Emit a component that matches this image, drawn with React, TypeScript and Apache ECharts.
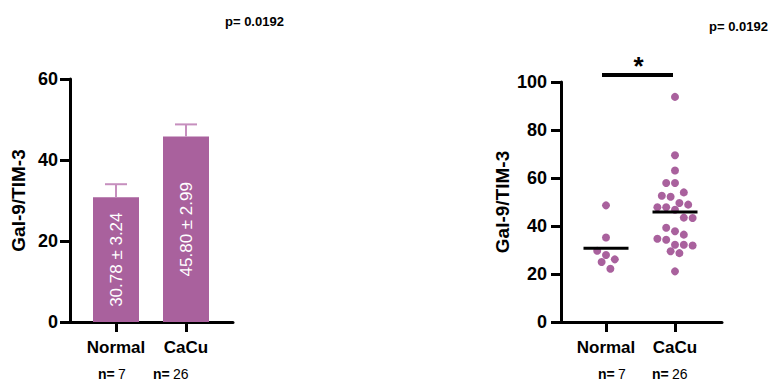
import React, { useEffect, useRef } from "react";
import * as echarts from "echarts";

const categories = ["Normal", "CaCu"];
const means = [30.78, 45.8];
const sems = [3.24, 2.99];
const counts = [7, 26];
const pValue = "0.0192";
const normalValues = [48.6, 35.2, 29.7, 27.9, 26.1, 25.0, 22.2];
const cacuValues = [
  93.8, 69.5, 63.1, 57.9, 57.9, 54.0, 52.6, 52.2, 49.6, 48.9, 47.8, 46.8, 47.8,
  43.3, 43.5, 39.3, 37.8, 36.4, 34.7, 34.3, 32.2, 31.9, 32.2, 29.5, 28.7, 21.1,
];
const leftTicks = { min: 0, max: 60, interval: 20 };
const rightTicks = { min: 0, max: 100, interval: 20 };

const FONT = "Liberation Sans, Arial, sans-serif";
const PURPLE = "#a9619d";
const ERR = "#c68fbe";

// Prism-like scatter-dot layout: values binned into rows (in pixels), each row centred
function swarm(values: number[], pxPerUnitY: number, rowH: number, step: number): number[] {
  const idx = values.map((_, i) => i).sort((a, b) => values[b] - values[a]);
  const out = new Array(values.length).fill(0);
  const rows: number[][] = [];
  let cur: number[] = [];
  let start = 0;
  for (const i of idx) {
    const y = values[i] * pxPerUnitY;
    if (cur.length && start - y > rowH) {
      rows.push(cur);
      cur = [];
    }
    if (!cur.length) start = y;
    cur.push(i);
  }
  if (cur.length) rows.push(cur);
  for (const r of rows) {
    r.forEach((i, k) => {
      out[i] = (k - (r.length - 1) / 2) * step;
    });
  }
  return out;
}

export default function App() {
  const ref = useRef<HTMLDivElement>(null);
  useEffect(() => {
    if (!ref.current) return;
    const chart = echarts.init(ref.current, null, { renderer: "svg" });

    const L = { left: 70, top: 79, width: 163, height: 243 };
    const R = { left: 561, top: 82, width: 161, height: 240 };
    const lMin = -46 / 70, lMax = 1 + 47 / 70;
    const rMin = -45 / 69, rMax = 1 + 47 / 69;
    const rPxX = R.width / (rMax - rMin);
    const rPxY = R.height / (rightTicks.max - rightTicks.min);
    const groups = [normalValues, cacuValues];
    const scatterData = groups.map((vals, g) => {
      const off = swarm(vals, rPxY, 11, 8.8);
      return vals.map((v, k) => [g + off[k] / rPxX, v]);
    });

    const axisLineStyle = { lineStyle: { color: "#000", width: 3 } };
    const xAxisBase = (min: number, max: number, gi: number) => ({
      type: "value",
      gridIndex: gi,
      min,
      max,
      splitLine: { show: false },
      axisLine: { show: true, onZero: false, ...axisLineStyle },
      axisTick: { show: true, length: 10, lineStyle: { color: "#000", width: 3 }, customValues: [0, 1] },
      axisLabel: {
        customValues: [0, 1],
        formatter: (v: number) => categories[Math.round(v)] ?? "",
        color: "#000",
        fontWeight: "bold",
        fontSize: 17,
        fontFamily: FONT,
        margin: 17,
      },
    });
    const yAxisBase = (t: any, gi: number, gap: number, margin: number) => ({
      type: "value",
      gridIndex: gi,
      min: t.min,
      max: t.max,
      interval: t.interval,
      name: "Gal-9/TIM-3",
      nameLocation: "middle",
      nameGap: gap,
      nameTextStyle: { color: "#000", fontWeight: "bold", fontSize: 19, fontFamily: FONT },
      splitLine: { show: false },
      axisLine: { show: true, onZero: false, ...axisLineStyle },
      axisTick: { show: true, length: 10, lineStyle: { color: "#000", width: 3 } },
      axisLabel: { color: "#000", fontWeight: "bold", fontSize: 18, fontFamily: FONT, margin },
    });

    const nText = (x: number, y: number, n: number) => ({
      type: "text",
      x,
      y,
      style: {
        text: `{b|n=} {r|${n}}`,
        rich: {
          b: { fontWeight: "bold", fontSize: 14, fontFamily: FONT, fill: "#000" },
          r: { fontSize: 14, fontFamily: FONT, fill: "#000" },
        },
        verticalAlign: "middle",
        align: "left",
      },
    });
    const pText = (x: number, y: number) => ({
      type: "text",
      x,
      y,
      style: {
        text: `p= ${pValue}`,
        fontWeight: "bold",
        fontSize: 13,
        fontFamily: FONT,
        fill: "#000",
        verticalAlign: "middle",
        align: "left",
      },
    });

    chart.setOption({
      animation: false,
      grid: [
        { left: L.left, top: L.top, width: L.width, height: L.height },
        { left: R.left, top: R.top, width: R.width, height: R.height },
      ],
      xAxis: [xAxisBase(lMin, lMax, 0), xAxisBase(rMin, rMax, 1)],
      yAxis: [yAxisBase(leftTicks, 0, 42, 12), yAxisBase(rightTicks, 1, 49, 14)],
      graphic: [
        pText(225, 21),
        pText(709, 26),
        nText(98, 374, counts[0]),
        nText(153, 374, counts[1]),
        nText(598, 374, counts[0]),
        nText(652, 374, counts[1]),
      ],
      series: [
        {
          type: "bar",
          xAxisIndex: 0,
          yAxisIndex: 0,
          barWidth: 46,
          data: means.map((m, i) => [i, m]),
          itemStyle: { color: PURPLE },
          label: {
            show: true,
            position: "inside",
            rotate: 90,
            color: "#fff",
            fontSize: 17,
            fontFamily: FONT,
            formatter: (p: any) => `${means[p.dataIndex].toFixed(2)} ± ${sems[p.dataIndex].toFixed(2)}`,
          },
          z: 2,
        },
        {
          type: "custom",
          xAxisIndex: 0,
          yAxisIndex: 0,
          data: means.map((m, i) => [i, m, sems[i]]),
          encode: { x: 0, y: 1 },
          z: 3,
          renderItem: (params: any, api: any) => {
            const x = api.value(0), m = api.value(1), s = api.value(2);
            const b = api.coord([x, m]);
            const t = api.coord([x, m + s]);
            return {
              type: "group",
              children: [
                { type: "line", shape: { x1: b[0], y1: b[1], x2: t[0], y2: t[1] }, style: { stroke: ERR, lineWidth: 2 } },
                { type: "line", shape: { x1: t[0] - 11, y1: t[1], x2: t[0] + 11, y2: t[1] }, style: { stroke: ERR, lineWidth: 2 } },
              ],
            };
          },
        },
        ...scatterData.map((d) => ({
          type: "scatter",
          xAxisIndex: 1,
          yAxisIndex: 1,
          data: d,
          symbolSize: 8,
          itemStyle: { color: PURPLE, opacity: 1 },
          z: 2,
        })),
        {
          type: "custom",
          xAxisIndex: 1,
          yAxisIndex: 1,
          data: means.map((m, i) => [i, m]),
          encode: { x: 0, y: 1 },
          z: 4,
          renderItem: (params: any, api: any) => {
            const c = api.coord([api.value(0), api.value(1)]);
            return {
              type: "line",
              shape: { x1: c[0] - 22.5, y1: c[1], x2: c[0] + 22.5, y2: c[1] },
              style: { stroke: "#000", lineWidth: 3 },
            };
          },
        },
        {
          type: "custom",
          xAxisIndex: 1,
          yAxisIndex: 1,
          data: [[0, 1, rightTicks.max]],
          z: 4,
          renderItem: (params: any, api: any) => {
            const a = api.coord([api.value(0), api.value(2)]);
            const b = api.coord([api.value(1), api.value(2)]);
            const y = a[1] - 7;
            const x1 = a[0] - 4, x2 = b[0] - 2;
            return {
              type: "group",
              children: [
                { type: "line", shape: { x1, y1: y, x2, y2: y }, style: { stroke: "#000", lineWidth: 4 } },
                {
                  type: "text",
                  x: (x1 + x2) / 2 + 1,
                  y: y - 9,
                  style: {
                    text: "*",
                    fontSize: 26,
                    fontWeight: "bold",
                    fontFamily: FONT,
                    fill: "#000",
                    align: "center",
                    verticalAlign: "middle",
                  },
                },
              ],
            };
          },
        },
      ],
    });
    return () => chart.dispose();
  }, []);
  return <div ref={ref} style={{ position: "absolute", left: 0, top: 0, width: 778, height: 381 }} />;
}
